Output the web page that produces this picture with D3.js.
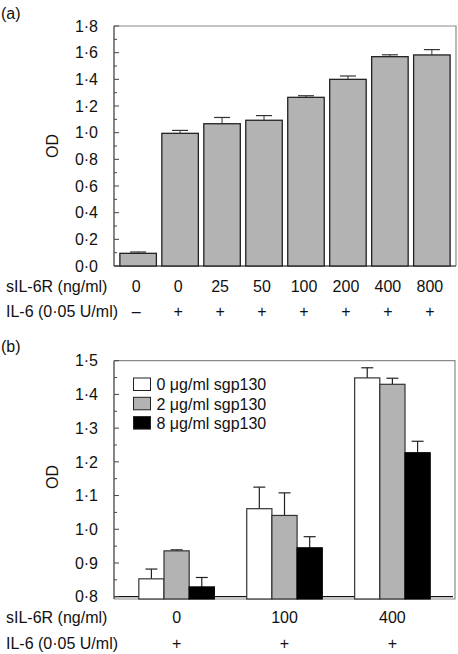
<!DOCTYPE html>
<html><head><meta charset="utf-8">
<script src="https://cdn.jsdelivr.net/npm/d3@7"></script>
<style>
html,body{margin:0;padding:0;background:#fff;}
svg text{font-family:"Liberation Sans",Arial,Helvetica,sans-serif;fill:#111;}
</style></head>
<body><svg id="c" width="458" height="654"></svg>
<script>
// Panel (a) data
const aDoses = ["0","0","25","50","100","200","400","800"];
const aIL6 = ["–","+","+","+","+","+","+","+"];
const aMeans = [0.095,0.995,1.067,1.093,1.265,1.400,1.570,1.583];
const aErr = [0.010,0.022,0.047,0.035,0.012,0.025,0.014,0.040];
const aTicks = [0,0.2,0.4,0.6,0.8,1.0,1.2,1.4,1.6,1.8];

// Panel (b) data
const bDoses = ["0","100","400"];
const bIL6 = ["+","+","+"];
const bSeries = ["0 μg/ml sgp130","2 μg/ml sgp130","8 μg/ml sgp130"];
const bColors = ["#ffffff","#b3b3b3","#000000"];
const bMeans = [[0.853,0.936,0.829],[1.061,1.041,0.945],[1.449,1.430,1.227]];
const bErr = [[0.029,0.003,0.028],[0.064,0.067,0.033],[0.030,0.018,0.034]];
const bTicks = [0.8,0.9,1.0,1.1,1.2,1.3,1.4,1.5];

const fmt = v => d3.format(".1f")(v).replace(".", "·");
const svg = d3.select("#c");
const FS = 16;

function yAxis(g, y, ticks, minor, left){
  g.selectAll("line.mn").data(minor).join("line").attr("class","mn")
    .attr("x1",left).attr("x2",left+3).attr("y1",d=>y(d)).attr("y2",d=>y(d))
    .attr("stroke","#444").attr("stroke-width",1);
  g.selectAll("line.mj").data(ticks).join("line").attr("class","mj")
    .attr("x1",left).attr("x2",left+5).attr("y1",d=>y(d)).attr("y2",d=>y(d))
    .attr("stroke","#444").attr("stroke-width",1);
  g.selectAll("text.tl").data(ticks).join("text").attr("class","tl")
    .attr("x",left-16).attr("y",d=>y(d)).attr("dy","0.36em")
    .attr("text-anchor","end").attr("font-size",FS).text(fmt);
}

// ---------- Panel (a)
{
  const L=114, R=456, T=26, B=266;
  const x = d3.scaleBand().domain(d3.range(aMeans.length)).range([L,R]).paddingInner(0.13).paddingOuter(0.14);
  const y = d3.scaleLinear().domain([0,1.8]).range([B,T]);
  const g = svg.append("g");
  svg.append("text").attr("x",1).attr("y",19).attr("font-size",FS).text("(a)");
  g.append("path").attr("d",`M${L},${T}H${R}V${B}`).attr("fill","none").attr("stroke","#8a8a8a").attr("stroke-width",1.2);
  g.append("line").attr("x1",L).attr("x2",R).attr("y1",B).attr("y2",B).attr("stroke","#555").attr("stroke-width",1.3);
  const mn = d3.range(1,18,2).map(i=>i/10);
  yAxis(g,y,aTicks,mn,L);
  g.append("line").attr("x1",L).attr("x2",L).attr("y1",T).attr("y2",B).attr("stroke","#444").attr("stroke-width",1.3);
  const eb = g.selectAll("g.eb").data(aMeans).join("g");
  eb.append("line").attr("x1",(d,i)=>x(i)+x.bandwidth()/2).attr("x2",(d,i)=>x(i)+x.bandwidth()/2)
    .attr("y1",d=>y(d)).attr("y2",(d,i)=>y(d+aErr[i])).attr("stroke","#333").attr("stroke-width",1);
  eb.append("line").attr("x1",(d,i)=>x(i)+x.bandwidth()/2-8).attr("x2",(d,i)=>x(i)+x.bandwidth()/2+8)
    .attr("y1",(d,i)=>y(d+aErr[i])).attr("y2",(d,i)=>y(d+aErr[i])).attr("stroke","#333").attr("stroke-width",1.2);
  g.selectAll("rect.bar").data(aMeans).join("rect").attr("class","bar")
    .attr("x",(d,i)=>x(i)).attr("width",x.bandwidth())
    .attr("y",d=>y(d)).attr("height",d=>B-y(d))
    .attr("fill","#b3b3b3").attr("stroke","#222").attr("stroke-width",1.3);
  g.append("text").attr("transform",`translate(58,146) rotate(-90)`).attr("text-anchor","middle").attr("font-size",FS).text("OD");
  g.append("text").attr("x",6).attr("y",292).attr("font-size",FS).text("sIL-6R (ng/ml)");
  g.append("text").attr("x",6).attr("y",317).attr("font-size",FS).text("IL-6 (0·05 U/ml)");
  g.selectAll("text.dz").data(aDoses).join("text").attr("class","dz")
    .attr("x",(d,i)=>x(i)+x.bandwidth()/2-2).attr("y",292).attr("text-anchor","middle").attr("font-size",FS).text(d=>d);
  g.selectAll("text.il").data(aIL6).join("text").attr("class","il")
    .attr("x",(d,i)=>x(i)+x.bandwidth()/2-2).attr("y",317).attr("text-anchor","middle").attr("font-size",FS).text(d=>d);
}

// ---------- Panel (b)
{
  const L=114, R=455, T=360.7, B=599;
  const x0 = d3.scaleBand().domain(d3.range(bDoses.length)).range([L,R]).paddingInner(0.30).paddingOuter(0.23);
  const x1 = d3.scaleBand().domain(d3.range(bSeries.length)).range([0,x0.bandwidth()]);
  const y = d3.scaleLinear().domain([0.8,1.5]).range([596.7,T]);
  const g = svg.append("g");
  svg.append("text").attr("x",1).attr("y",352).attr("font-size",FS).text("(b)");
  g.append("path").attr("d",`M${L},${T}H${R}V${B}H${L}`).attr("fill","none").attr("stroke","#8a8a8a").attr("stroke-width",1.2);
  g.append("line").attr("x1",L).attr("x2",R-2).attr("y1",y(0.8)).attr("y2",y(0.8)).attr("stroke","#111").attr("stroke-width",1.3);
  const mn = d3.range(17,30,2).map(i=>i/20);
  yAxis(g,y,bTicks,mn,L);
  g.append("line").attr("x1",L).attr("x2",L).attr("y1",T).attr("y2",B).attr("stroke","#444").attr("stroke-width",1.3);
  const grp = g.selectAll("g.grp").data(bMeans).join("g").attr("transform",(d,i)=>`translate(${x0(i)},0)`);
  const items = grp.selectAll("g.it").data((d,i)=>d.map((v,j)=>({v,e:bErr[i][j],j}))).join("g");
  items.append("line").attr("x1",d=>x1(d.j)+x1.bandwidth()/2).attr("x2",d=>x1(d.j)+x1.bandwidth()/2)
    .attr("y1",d=>y(d.v)).attr("y2",d=>y(d.v+d.e)).attr("stroke","#222").attr("stroke-width",1.2);
  items.append("line").attr("x1",d=>x1(d.j)+x1.bandwidth()/2-6).attr("x2",d=>x1(d.j)+x1.bandwidth()/2+6)
    .attr("y1",d=>y(d.v+d.e)).attr("y2",d=>y(d.v+d.e)).attr("stroke","#222").attr("stroke-width",1.2);
  items.append("rect").attr("x",d=>x1(d.j)).attr("width",x1.bandwidth())
    .attr("y",d=>y(d.v)).attr("height",d=>B-y(d.v))
    .attr("fill",d=>bColors[d.j]).attr("stroke",d=>d.j===2?"#000":"#333").attr("stroke-width",1.2);
  const lg = g.selectAll("g.lg").data(bSeries).join("g").attr("transform",(d,i)=>`translate(133.5,${378+i*19.3})`);
  lg.append("rect").attr("width",17).attr("height",12.5).attr("fill",(d,i)=>bColors[i]).attr("stroke","#222").attr("stroke-width",1);
  lg.append("text").attr("x",23).attr("y",6.5).attr("dy","0.36em").attr("font-size",FS).text(d=>d);
  g.append("text").attr("transform",`translate(58,477) rotate(-90)`).attr("text-anchor","middle").attr("font-size",FS).text("OD");
  g.append("text").attr("x",6).attr("y",623).attr("font-size",FS).text("sIL-6R (ng/ml)");
  g.append("text").attr("x",6).attr("y",649).attr("font-size",FS).text("IL-6 (0·05 U/ml)");
  g.selectAll("text.dz").data(bDoses).join("text").attr("class","dz")
    .attr("x",(d,i)=>x0(i)+x0.bandwidth()/2).attr("y",623).attr("text-anchor","middle").attr("font-size",FS).text(d=>d);
  g.selectAll("text.il").data(bIL6).join("text").attr("class","il")
    .attr("x",(d,i)=>x0(i)+x0.bandwidth()/2).attr("y",649).attr("text-anchor","middle").attr("font-size",FS).text(d=>d);
}
</script></body></html>
